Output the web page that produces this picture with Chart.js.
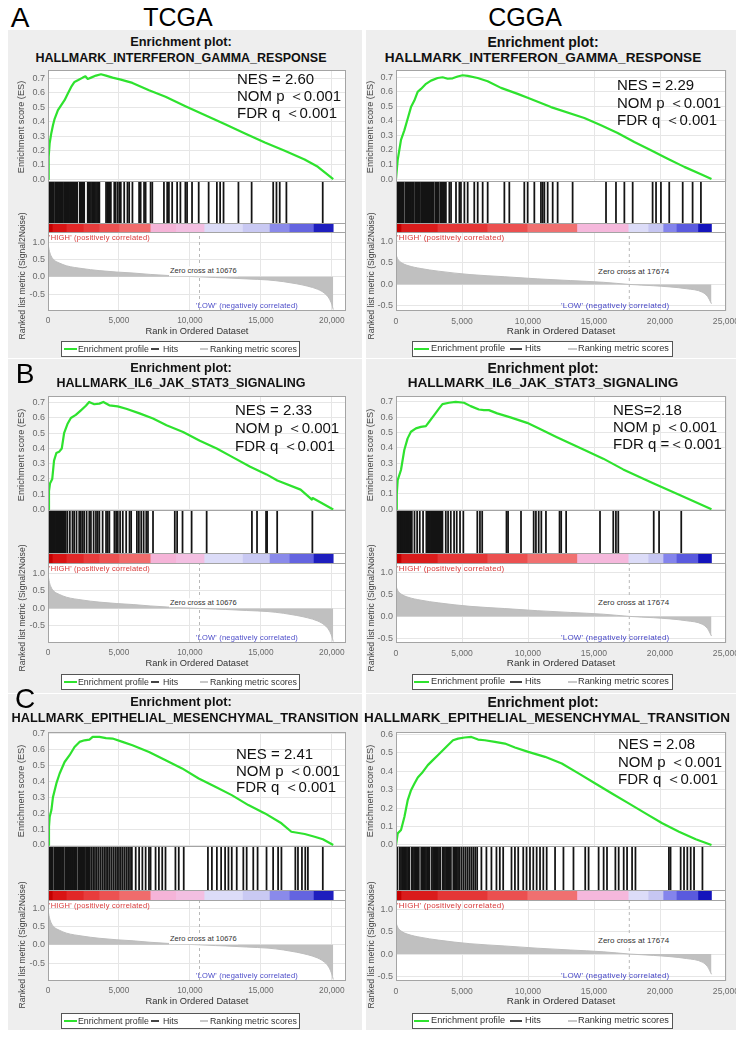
<!DOCTYPE html>
<html><head><meta charset="utf-8"><title>GSEA enrichment plots</title>
<script src="https://cdn.jsdelivr.net/npm/chart.js@4.4.0/dist/chart.umd.min.js"></script>
<style>
html,body{margin:0;padding:0;background:#fff}
body{position:relative;width:742px;height:1037px;overflow:hidden;font-family:"Liberation Sans",Arial,Helvetica,sans-serif}
.t{position:absolute;white-space:nowrap;line-height:1}
canvas{position:absolute}
.bg{position:absolute;background:#eeeeee}
.leg{position:absolute;border:1px solid #555;background:#fff;box-sizing:border-box}
.leg i{position:absolute;top:50%;display:block}
.leg span{position:absolute;top:50%;transform:translateY(-50%);white-space:nowrap;line-height:1;color:#333}
</style></head><body>
<script>
// ---------------- DATA ----------------
// Ranked list metric (Signal2Noise), TCGA and CGGA
const tcgaRankX = [0,70,200,450,800,1300,2400,3600,4800,6000,7200,8400,9500,10676,11800,12500,14000,15500,16600,17500,18300,19000,19500,19800,20000,20100];
const tcgaRankY = [1.0,0.80,0.62,0.48,0.40,0.32,0.24,0.18,0.14,0.11,0.07,0.04,0.02,0.0,-0.02,-0.03,-0.06,-0.09,-0.14,-0.20,-0.27,-0.36,-0.48,-0.62,-0.80,-0.95];
const cggaRankX = [0,120,400,900,1900,3200,5600,8200,10700,13200,15700,17674,19500,22000,23200,23600,23900];
const cggaRankY = [0.70,0.60,0.51,0.44,0.37,0.31,0.23,0.18,0.13,0.09,0.05,0.0,-0.03,-0.10,-0.18,-0.28,-0.45];
const tcgaZeroCross = 10676;
const cggaZeroCross = 17674;
const tcgaAxisMax = 21000;
const cggaAxisMax = 25000;

// Tick labels
const tcgaXTicks = [0,5000,10000,15000,20000];
const cggaXTicks = [0,5000,10000,15000,20000,25000];
const esTicks = [0,0.1,0.2,0.3,0.4,0.5,0.6,0.7];
const rankTicks = [-0.5,0,0.5,1.0];

// Heat-map strip segments (rank boundaries)
const tcgaStripEdges = [0,300,1300,2500,3600,5000,7200,9000,11000,13700,15600,17000,18700,20100];
const cggaStripEdges = [0,380,3140,6900,9930,13700,17590,19100,20230,21235,22870,23900];

// Running enrichment score curves
const tcgaIfnEsX = [0,47,117,233,350,467,700,933,1167,1400,1633,1867,2100,2450,2637,2800,3033,3383,3733,4083,4550,5133,5950,7117,8283,9683,11083,12483,13883,15283,16683,18083,19017,20100];
const tcgaIfnEsY = [0,0.155,0.25,0.32,0.375,0.42,0.48,0.515,0.55,0.596,0.642,0.677,0.688,0.707,0.716,0.698,0.707,0.721,0.73,0.721,0.707,0.693,0.67,0.619,0.573,0.508,0.445,0.382,0.318,0.255,0.197,0.137,0.086,0];
const cggaIfnEsX = [0,126,252,379,631,884,1136,1389,1641,1894,2273,2651,3156,3535,3914,4293,4671,5050,5429,6186,6944,7954,9216,9974,11741,14266,15529,16791,18054,19316,20579,21841,23104,23900];
const cggaIfnEsY = [0,0.13,0.2,0.27,0.335,0.415,0.495,0.54,0.6,0.62,0.655,0.677,0.695,0.7,0.69,0.693,0.705,0.714,0.71,0.695,0.673,0.627,0.586,0.559,0.495,0.42,0.37,0.317,0.255,0.198,0.14,0.084,0.034,0];
const tcgaIl6EsX = [0,70,140,300,425,590,780,970,1134,1370,1610,1960,2320,2670,2900,3260,3620,3900,4320,4910,5510,6450,7400,8350,9520,10700,11890,13070,14250,15400,16160,17800,18600,18650,20100];
const tcgaIl6EsY = [0,0.12,0.17,0.2,0.32,0.37,0.378,0.40,0.50,0.56,0.60,0.62,0.65,0.68,0.705,0.69,0.694,0.705,0.683,0.676,0.66,0.63,0.596,0.552,0.508,0.45,0.40,0.34,0.28,0.23,0.19,0.13,0.065,0.075,0];
const cggaIl6EsX = [0,60,128,377,628,880,1131,1508,1885,2262,2513,2890,3267,3519,4020,4524,5150,5655,6280,6660,7035,7670,8670,9930,10680,12190,14200,15700,17210,19480,21490,23900];
const cggaIl6EsY = [0,0.1,0.19,0.256,0.386,0.462,0.505,0.527,0.537,0.542,0.57,0.614,0.657,0.685,0.694,0.70,0.694,0.672,0.65,0.646,0.646,0.625,0.599,0.563,0.533,0.47,0.39,0.33,0.26,0.17,0.093,0];
const tcgaEmtEsX = [0,70,120,240,350,590,820,1170,1520,1870,2220,2570,2920,3150,3620,4090,4550,5250,5950,7120,8290,9450,10620,11790,12950,14120,15290,16450,17150,18090,18790,19370,20100];
const tcgaEmtEsY = [0,0.115,0.177,0.219,0.30,0.386,0.448,0.52,0.5625,0.614,0.646,0.656,0.66,0.677,0.677,0.67,0.667,0.646,0.625,0.583,0.531,0.48,0.417,0.365,0.3125,0.25,0.198,0.136,0.083,0.069,0.052,0.036,0];
const cggaEmtEsX = [0,130,380,640,890,1140,1400,1650,2030,2410,2790,3170,3550,3930,4320,4700,5200,5710,6220,6730,7490,8250,9010,10020,11290,12560,13830,15100,16360,17630,18900,20170,21440,22710,23900];
const cggaEmtEsY = [0,0.063,0.081,0.153,0.244,0.298,0.334,0.367,0.397,0.434,0.461,0.488,0.515,0.542,0.569,0.578,0.584,0.587,0.573,0.569,0.56,0.551,0.53,0.506,0.479,0.443,0.389,0.334,0.28,0.226,0.172,0.118,0.072,0.031,0];

// Hit positions (ranks of gene-set members)
const tcgaIfnHits = [20,80,140,190,250,300,360,420,540,600,650,710,770,830,880,940,1000,1060,1180,1240,1300,1360,1420,1480,1550,1610,1680,1740,1800,1870,1930,2000,2060,2240,2300,2360,2420,2490,2550,2800,2870,2950,3030,3120,3200,3300,3380,3460,3560,3620,4090,4180,4270,4350,4430,4670,4760,4900,5020,5130,5370,5600,5720,5950,6420,6530,6770,6880,7230,7350,8170,8400,8520,8750,9100,9330,9680,9800,10150,10620,11320,11900,12130,12370,13420,14350,15870,16100,16330,16800,19360];
const cggaIfnHits = [30,100,170,240,310,380,450,520,580,720,790,860,930,1000,1070,1140,1210,1280,1350,1470,1540,1610,1680,1750,1820,1950,2020,2090,2160,2230,2300,2370,2440,2510,2580,2650,2720,2790,2860,3000,3070,3140,3210,3350,3420,3490,3560,3630,3700,3780,4040,4170,4545,4800,4920,5180,5430,5930,6190,6565,6945,8210,8585,9720,9975,10480,10980,11110,11240,11490,11870,12245,13380,15910,16665,17300,17930,19440,19700,20070,20700,21720,22470,23100];
const tcgaIl6Hits = [10,70,130,190,250,310,370,430,490,560,620,690,750,810,880,940,1010,1070,1130,1200,1250,1370,1540,1725,1845,2010,2200,2315,2435,2550,2720,2910,3025,3215,3380,3500,3620,3850,4090,4210,4325,4680,4800,4920,5080,5270,5510,5745,5860,6265,6405,6570,6740,6925,7045,7400,8935,9100,9480,10120,11180,14370,14730,15365,15440,16150,18630];
const cggaIl6Hits = [20,90,160,230,300,370,440,510,580,650,720,790,860,930,1000,1070,1140,1200,1400,1600,1800,2050,2300,2370,2440,2510,2580,2650,2720,2790,2860,2930,3000,3070,3140,3210,3280,3350,3420,3520,3770,3945,4150,4400,4600,4850,5100,6160,6360,6530,8370,8490,9470,10430,10600,10810,11010,11360,12390,12515,12890,15455,16460,16660,16840,19525,19930,21610];
const tcgaEmtHits = [10,75,140,205,270,335,465,530,595,660,725,790,855,920,985,1050,1115,1245,1310,1375,1440,1505,1570,1635,1700,1765,1830,1895,1960,2025,2155,2220,2285,2350,2415,2480,2545,2675,2740,2805,2870,2935,3050,3180,3310,3440,3570,3700,3830,3960,4090,4220,4350,4480,4610,4740,4870,5000,5130,5260,5390,5520,5650,5780,5910,6180,6420,6650,6880,7115,7230,7580,7815,8050,8280,8980,9215,9565,11270,11550,11900,12200,12480,12715,12950,13300,13765,14000,14465,14770,15400,15865,16215,16450,17430,17615,17895,18130,18315,19365];
const cggaEmtHits = [20,110,290,380,470,560,650,740,830,920,1010,1190,1280,1370,1460,1550,1640,1730,1910,2000,2090,2180,2270,2360,2450,2540,2720,2810,2900,2990,3080,3170,3260,3350,3530,3620,3710,3800,3890,3980,4070,4160,4340,4430,4520,4610,4700,4800,4950,5100,5250,5400,5550,5700,5850,6000,6150,6470,6850,7230,7610,7865,8120,8750,9010,9260,9640,9890,10150,10400,10655,10910,11160,11415,12050,12685,13445,14335,14590,15350,15730,15985,16620,16870,17250,17505,17885,18140,20675,20800,21565,21820,22070,22325,22580,23215];

// Text
const geneSetNames = ['HALLMARK_INTERFERON_GAMMA_RESPONSE','HALLMARK_IL6_JAK_STAT3_SIGNALING','HALLMARK_EPITHELIAL_MESENCHYMAL_TRANSITION'];
const nesTcgaIfn = ['NES = 2.60','NOM p \uFF1C0.001','FDR q \uFF1C0.001'];
const nesCggaIfn = ['NES = 2.29','NOM p \uFF1C0.001','FDR q \uFF1C0.001'];
const nesTcgaIl6 = ['NES = 2.33','NOM p \uFF1C0.001','FDR q \uFF1C0.001'];
const nesCggaIl6 = ['NES=2.18','NOM p \uFF1C0.001','FDR q =\uFF1C0.001'];
const nesTcgaEmt = ['NES = 2.41','NOM p \uFF1C0.001','FDR q \uFF1C0.001'];
const nesCggaEmt = ['NES = 2.08','NOM p \uFF1C0.001','FDR q \uFF1C0.001'];

// ---------------- STYLE / LAYOUT ----------------
const tcgaStripColors = ['#c40000','#d91414','#e22828','#e83c3c','#ec5252','#f06c6c','#f5b4d8','#f3bfe2','#dcdcf8','#c9c9f3','#8a8aea','#6464e0','#1e1ebe'];
const cggaStripColors = ['#c40000','#da1c1c','#e43636','#eb5050','#f07070','#f5b8dc','#dcdcf8','#c6c6f2','#8484ec','#5a5ade','#1414bc'];

const FONT = '"Liberation Sans", Arial, Helvetica, sans-serif';
Chart.defaults.font.family = FONT;
Chart.defaults.animation = false;
const tickColor = '#6b6b6b', gridColor = '#e6e6e6';

const cols = {
  L: {bgL: 8, bgR: 362, plotL: 48, plotR: 346, xMax: tcgaAxisMax, xTicks: tcgaXTicks, tick: 9, xtick: 8.3, xtitle: 9.3, small: 7.5, leg: 8.8, ytitleX: 22, zcX: 169, lowX: 196,
      legL: 61, legW: 239, legItems: [2, 13, 16, 89, 8, 101, 138, 8, 148], t1Font: 12.8, t2Font: 12.5, tcx: 181},
  R: {bgL: 366, bgR: 736, plotL: 396, plotR: 726, xMax: cggaAxisMax, xTicks: cggaXTicks, tick: 9, xtick: 8.6, xtitle: 9.8, small: 8, leg: 9.2, ytitleX: 371, zcX: 597, lowX: 561,
      legL: 412, legW: 261, legItems: [1, 15, 18, 97, 12, 112, 155, 9, 165], t1Font: 14, t2Font: 13.6, tcx: 543}
};
const rows = {
  A: {bgT: 30, bgB: 358, t1: 42, t2: 58, esT: 70, esB: 182, hitsB: 223, cbB: 233, rankB: 311, legT: 341},
  B: {bgT: 359, bgB: 693, t1: 368, t2: 383, esT: 396, esB: 511, hitsB: 553, cbB: 564, rankB: 643, legT: 674},
  C: {bgT: 694, bgB: 1030, t1: 702, t2: 718, esT: 732, esB: 847, hitsB: 890, cbB: 901, rankB: 981, legT: 1013}
};
const tcga = {rankX: tcgaRankX, rankY: tcgaRankY, zc: tcgaZeroCross, edges: tcgaStripEdges, colors: tcgaStripColors};
const cgga = {rankX: cggaRankX, rankY: cggaRankY, zc: cggaZeroCross, edges: cggaStripEdges, colors: cggaStripColors};

const panels = [
  {row:'A', col:'L', ds:tcga, title:geneSetNames[0], esX:tcgaIfnEsX, esY:tcgaIfnEsY, hits:tcgaIfnHits, nes:nesTcgaIfn, esR:[-0.02,0.76], rkR:[-0.99,1.27], nesPos:[237,78,17]},
  {row:'A', col:'R', ds:cgga, title:geneSetNames[0], esX:cggaIfnEsX, esY:cggaIfnEsY, hits:cggaIfnHits, nes:nesCggaIfn, esR:[-0.02,0.75], rkR:[-0.62,1.2], nesPos:[617,84,17.7]},
  {row:'B', col:'L', ds:tcga, title:geneSetNames[1], esX:tcgaIl6EsX, esY:tcgaIl6EsY, hits:tcgaIl6Hits, nes:nesTcgaIl6, esR:[-0.01,0.744], rkR:[-0.99,1.27], nesPos:[235,409,17.8]},
  {row:'B', col:'R', ds:cgga, title:geneSetNames[1], esX:cggaIl6EsX, esY:cggaIl6EsY, hits:cggaIl6Hits, nes:nesCggaIl6, esR:[-0.011,0.738], rkR:[-0.61,1.2], nesPos:[613,409,17.2]},
  {row:'C', col:'L', ds:tcga, title:geneSetNames[2], esX:tcgaEmtEsX, esY:tcgaEmtEsY, hits:tcgaEmtHits, nes:nesTcgaEmt, esR:[-0.0125,0.708], rkR:[-0.99,1.2], nesPos:[236,753,16.7], t2Font:12.8, tcx:185},
  {row:'C', col:'R', ds:cgga, title:geneSetNames[2], esX:cggaEmtEsX, esY:cggaEmtEsY, hits:cggaEmtHits, nes:nesCggaEmt, esR:[-0.011,0.614], rkR:[-0.6,1.18], nesPos:[618,743,17.5], t2Font:13.5, tcx:547}
];

// ---------------- HELPERS ----------------
function txt(s, css) {
  const d = document.createElement('div');
  d.className = 't'; d.textContent = s; d.style.cssText += css;
  document.body.appendChild(d); return d;
}
function box(l, t, w, h) {
  const d = document.createElement('div'); d.className = 'bg';
  d.style.cssText += `left:${l}px;top:${t}px;width:${w}px;height:${h}px`;
  document.body.appendChild(d);
}
function mkCanvas(l, t, w, h) {
  const c = document.createElement('canvas');
  c.width = w; c.height = h;
  c.style.cssText = `left:${l}px;top:${t}px;width:${w}px;height:${h}px`;
  document.body.appendChild(c); return c;
}
const setTicks = vals => s => { s.ticks = vals.map(v => ({value: v})); };
const framePlugin = {
  id: 'frame',
  beforeDraw(chart) {
    const a = chart.chartArea, ctx = chart.ctx;
    ctx.save(); ctx.fillStyle = '#ffffff'; ctx.fillRect(a.left, a.top, a.right - a.left, a.bottom - a.top); ctx.restore();
  },
  afterDraw(chart, args, opts) {
    const a = chart.chartArea, ctx = chart.ctx, s = opts.sides || 'tlrb';
    const l = Math.round(a.left) + 0.5, r = Math.round(a.right) - 0.5, t = Math.round(a.top) + 0.5, b = Math.round(a.bottom) - 0.5;
    ctx.save(); ctx.strokeStyle = '#a4a4a4'; ctx.lineWidth = 1; ctx.beginPath();
    if (s.includes('t')) { ctx.moveTo(l - 0.5, t); ctx.lineTo(r + 0.5, t); }
    if (s.includes('b')) { ctx.moveTo(l - 0.5, b); ctx.lineTo(r + 0.5, b); }
    if (s.includes('l')) { ctx.moveTo(l, t - 0.5); ctx.lineTo(l, b + 0.5); }
    if (s.includes('r')) { ctx.moveTo(r, t - 0.5); ctx.lineTo(r, b + 0.5); }
    ctx.stroke(); ctx.restore();
  }
};
const baseOpts = (padR, top, bottom, left) => ({
  responsive: false, animation: false, events: [],
  layout: {padding: {left: left || 0, right: padR, top, bottom}},
});

// ---------------- LETTERS / HEADERS ----------------
txt('A', 'left:20px;top:18px;transform:translate(-50%,-50%);font-size:28px;color:#000');
txt('TCGA', 'left:178px;top:17px;transform:translate(-50%,-50%);font-size:25px;color:#000');
txt('CGGA', 'left:525px;top:17px;transform:translate(-50%,-50%);font-size:25px;color:#000');

// ---------------- PANELS ----------------
panels.forEach(p => {
  const c = cols[p.col], r = rows[p.row], d = p.ds;
  const cw = c.bgR - c.bgL, padL = c.plotL - c.bgL, padR = c.bgR - c.plotR;
  box(c.bgL, r.bgT, cw, r.bgB - r.bgT);
  const tcx = p.tcx || c.tcx;
  txt('Enrichment plot:', `left:${c.tcx}px;top:${r.t1}px;transform:translate(-50%,-50%);font-weight:bold;font-size:${c.t1Font}px;color:#111`);
  txt(p.title, `left:${tcx}px;top:${r.t2}px;transform:translate(-50%,-50%);font-weight:bold;font-size:${p.t2Font || c.t2Font}px;color:#111`);

  // ES chart
  const esH = r.esB - r.esT;
  new Chart(mkCanvas(c.bgL, r.esT - 8, cw, esH + 16), {
    type: 'line',
    data: {datasets: [{data: p.esX.map((x, i) => ({x, y: p.esY[i]})), borderColor: '#2ee22e', borderWidth: 2.2, pointRadius: 0, tension: 0, fill: false, borderJoinStyle: 'round'}]},
    options: Object.assign(baseOpts(padR, 8, 8), {
      plugins: {legend: {display: false}, tooltip: {enabled: false}, frame: {sides: 'tlrb'}},
      scales: {
        x: {type: 'linear', min: 0, max: c.xMax, ticks: {display: false},
            afterBuildTicks: setTicks(c.xTicks),
            grid: {color: gridColor, drawTicks: false}, border: {display: false},
            afterFit: s => { s.height = 0; s.paddingLeft = 0; s.paddingRight = 0; }},
        y: {type: 'linear', min: p.esR[0], max: p.esR[1],
            afterBuildTicks: setTicks(esTicks),
            ticks: {padding: 3, color: tickColor, font: {size: c.tick}, callback: v => v.toFixed(1)},
            grid: {color: gridColor, drawTicks: false}, border: {display: false},
            afterFit: s => { s.width = padL; s.paddingTop = 0; s.paddingBottom = 0; }}
      }
    }),
    plugins: [framePlugin]
  });

  // Hits chart
  new Chart(mkCanvas(c.bgL, r.esB, cw, r.hitsB - r.esB), {
    type: 'bar',
    data: {datasets: [{data: p.hits.map(h => ({x: h, y: 1})), backgroundColor: '#141414', barThickness: 1.1, grouped: false}]},
    options: Object.assign(baseOpts(padR, 0, 0, padL), {
      plugins: {legend: {display: false}, tooltip: {enabled: false}, frame: {sides: 'lr'}},
      scales: {
        x: {type: 'linear', min: 0, max: c.xMax, display: false, offset: false},
        y: {type: 'linear', min: 0, max: 1, display: false}
      }
    }),
    plugins: [framePlugin]
  });

  // Colour strip
  new Chart(mkCanvas(c.bgL, r.hitsB, cw, r.cbB - r.hitsB), {
    type: 'bar',
    data: {labels: [''], datasets: d.edges.slice(0, -1).map((e, i) => ({data: [[e, d.edges[i + 1]]], backgroundColor: d.colors[i], borderWidth: 0, barPercentage: 1, categoryPercentage: 1, grouped: false}))},
    options: Object.assign(baseOpts(padR, 0, 0, padL), {
      indexAxis: 'y',
      plugins: {legend: {display: false}, tooltip: {enabled: false}, frame: {sides: 'tlrb'}},
      scales: {
        x: {type: 'linear', min: 0, max: c.xMax, display: false},
        y: {display: false}
      }
    }),
    plugins: [framePlugin]
  });

  // Ranked list metric chart
  const rkH = r.rankB - r.cbB;
  new Chart(mkCanvas(c.bgL, r.cbB - 8, cw, rkH + 8 + 26), {
    type: 'line',
    data: {datasets: [
      {data: d.rankX.map((x, i) => ({x, y: d.rankY[i]})), borderColor: '#bdbdbd', backgroundColor: '#c0c0c0', borderWidth: 1, pointRadius: 0, fill: 'origin', cubicInterpolationMode: 'monotone', order: 1},
      {data: [{x: d.zc, y: p.rkR[0]}, {x: d.zc, y: p.rkR[1]}], borderColor: '#b8b8b8', borderWidth: 1, borderDash: [3, 3], pointRadius: 0, fill: false, order: 2}
    ]},
    options: Object.assign(baseOpts(padR, 8, 0), {
      plugins: {legend: {display: false}, tooltip: {enabled: false}, frame: {sides: 'lrb'}},
      scales: {
        x: {type: 'linear', min: 0, max: c.xMax,
            afterBuildTicks: setTicks(c.xTicks),
            ticks: {padding: 5, color: tickColor, font: {size: c.xtick}, maxRotation: 0, autoSkip: false, callback: v => v.toLocaleString('en-US')},
            grid: {color: gridColor, drawTicks: false}, border: {display: false},
            title: {display: true, text: 'Rank in Ordered Dataset', color: '#333', font: {size: c.xtitle}, padding: {top: 0, bottom: 0}},
            afterFit: s => { s.height = 26; s.paddingLeft = 0; s.paddingRight = 0; }},
        y: {type: 'linear', min: p.rkR[0], max: p.rkR[1],
            afterBuildTicks: setTicks(rankTicks),
            ticks: {padding: 3, color: tickColor, font: {size: c.tick}, callback: v => v.toFixed(1)},
            grid: {color: gridColor, drawTicks: false}, border: {display: false},
            afterFit: s => { s.width = padL; s.paddingTop = 0; s.paddingBottom = 0; }}
      }
    }),
    plugins: [framePlugin]
  });

  // Axis titles
  txt('Enrichment score (ES)', `left:${c.ytitleX}px;top:${(r.esT + r.esB) / 2 + 1}px;transform:translate(-50%,-50%) rotate(-90deg);font-size:9.2px;color:#444`);
  txt('Ranked list metric (Signal2Noise)', `left:${c.ytitleX}px;top:${(r.cbB + r.rankB) / 2 + 4}px;transform:translate(-50%,-50%) rotate(-90deg);font-size:8.6px;color:#444`);

  // NES block
  p.nes.forEach((s, i) => txt(s, `left:${p.nesPos[0]}px;top:${p.nesPos[1] + i * p.nesPos[2]}px;transform:translateY(-50%);font-size:15px;color:#111`));

  // Strip / zero-cross annotations
  txt("'HIGH' (positively correlated)", `left:${c.plotL + 1}px;top:${r.cbB + 0.5}px;font-size:${c.small}px;color:#d83a3a;letter-spacing:0.2px`);
  txt("'LOW' (negatively correlated)", `left:${c.lowX}px;top:${r.rankB - 5.5}px;transform:translateY(-50%);font-size:${c.small}px;color:#4a4ac8;letter-spacing:0.2px`);
  const y0 = r.cbB + (p.rkR[1] / (p.rkR[1] - p.rkR[0])) * rkH;
  const zcY = p.col === 'L' ? y0 - 5.5 : r.cbB + ((p.rkR[1] - 0.3) / (p.rkR[1] - p.rkR[0])) * rkH;
  txt('Zero cross at ' + d.zc, `left:${c.zcX}px;top:${zcY}px;transform:translateY(-50%);font-size:${c.small}px;color:#333;background:#fff;padding:1px 1px`);

  // Legend
  const L = document.createElement('div'); L.className = 'leg';
  L.style.cssText += `left:${c.legL}px;top:${r.legT}px;width:${c.legW}px;height:16px`;
  const it = c.legItems;
  L.innerHTML = `<i style="left:${it[0]}px;width:${it[1]}px;height:2px;margin-top:-1px;background:#2ee22e"></i>` +
    `<span style="left:${it[2]}px;font-size:${c.leg}px">Enrichment profile</span>` +
    `<i style="left:${it[3]}px;width:${it[4]}px;height:1.4px;margin-top:-0.7px;background:#444"></i>` +
    `<span style="left:${it[5]}px;font-size:${c.leg}px">Hits</span>` +
    `<i style="left:${it[6]}px;width:${it[7]}px;height:1.4px;margin-top:-0.7px;background:#c8c8c8"></i>` +
    `<span style="left:${it[8]}px;font-size:${c.leg}px">Ranking metric scores</span>`;
  document.body.appendChild(L);
});

txt('B', 'left:25px;top:374px;transform:translate(-50%,-50%);font-size:28px;color:#000');
txt('C', 'left:25px;top:699px;transform:translate(-50%,-50%);font-size:28px;color:#000');
</script>
</body></html>
